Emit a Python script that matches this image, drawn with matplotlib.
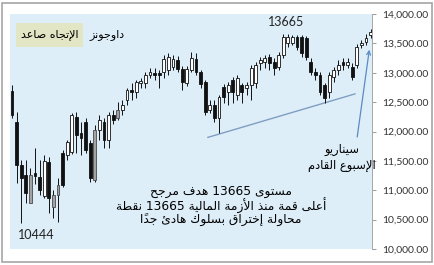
import matplotlib.pyplot as plt
from matplotlib.patches import Rectangle
from matplotlib.ticker import FuncFormatter

# candle data (open, high, low, close)
opens = [12691, 12164, 11433, 11263, 10787, 11297, 11229, 10906, 11484, 10719,
         10923, 11637, 11603, 11654, 12249, 11977, 12164, 11807, 11178, 12028,
         12164, 11858, 12283, 12232, 12368, 12538, 12708, 12674, 12827, 12827,
         12963, 12997, 12997, 13014, 13048, 13099, 13218, 13065, 12827, 13048,
         13235, 13014, 12844, 12368, 12453, 12232, 12759, 12674, 12878, 12623,
         12793, 12742, 12793, 12827, 13167, 13184, 13269, 13184, 13099, 13303,
         13507, 13507, 13609, 13609, 13592, 13184, 13014, 12963, 12793, 12674,
         12929, 13048, 13184, 13133, 13099, 13133, 13473, 13524, 13643]
highs = [12793, 12334, 11518, 11518, 11382, 11722, 11518, 11603, 11569, 11008,
         11212, 11688, 11858, 12317, 12334, 12164, 12232, 11858, 12113, 12283,
         12232, 12334, 12368, 12504, 12538, 12742, 12827, 12878, 12912, 13014,
         13082, 13082, 13048, 13303, 13337, 13303, 13286, 13116, 13116, 13354,
         13337, 13048, 12878, 12538, 12538, 12623, 12810, 12844, 12929, 12963,
         12827, 12844, 13133, 13184, 13269, 13303, 13320, 13252, 13354, 13665,
         13660, 13643, 13643, 13643, 13626, 13252, 13082, 13014, 12827, 13014,
         13099, 13218, 13252, 13252, 13167, 13490, 13558, 13660, 13745]
lows = [12232, 11127, 10444, 10787, 10787, 11110, 10923, 10872, 10617, 10532,
        10460, 11059, 11518, 11620, 11637, 11603, 11637, 11144, 11144, 11858,
        11722, 11722, 12130, 12198, 12283, 12453, 12538, 12572, 12742, 12742,
        12912, 12878, 12742, 12912, 12963, 13048, 13014, 12708, 12776, 13014,
        12963, 12742, 12283, 12317, 12164, 11977, 12487, 12453, 12487, 12538,
        12487, 12623, 12538, 12742, 13048, 13082, 13048, 12963, 13048, 13252,
        13439, 13473, 13390, 13269, 13218, 12963, 12878, 12623, 12487, 12572,
        12844, 12963, 13048, 13082, 12878, 13082, 13422, 13473, 13592]
closes = [12283, 11433, 11212, 10957, 11263, 11246, 11008, 11501, 10872, 10923,
          11093, 11093, 11824, 12283, 11943, 11892, 11688, 11212, 12028, 12198,
          11858, 12283, 12198, 12368, 12453, 12708, 12674, 12844, 12861, 12963,
          13014, 12963, 12963, 13235, 13269, 13235, 13065, 12844, 13065, 13252,
          13014, 12810, 12334, 12453, 12232, 12589, 12589, 12793, 12674, 12912,
          12674, 12793, 13082, 13133, 13218, 13252, 13167, 13082, 13303, 13609,
          13609, 13609, 13439, 13337, 13269, 13014, 12963, 12674, 12572, 12963,
          13048, 13133, 13133, 13184, 12929, 13439, 13507, 13592, 13694]
gray_idx = [4, 9, 10, 18, 23]

trend_idx = [42.6, 74.6]
trend_val = [11900, 12640]

# Arabic labels
title_txt = 'داوجونز'
trend_txt = 'الإتجاه صاعد'
note_lines = ['مستوى 13665 هدف مرجح',
              'أعلى قمة منذ الأزمة المالية 13665 نقطة',
              'محاولة إختراق بسلوك هادئ جداً']
scen_lines = ['سيناريو', 'الإسبوع القادم']

# --- minimal arabic shaping (matplotlib has no shaping / bidi) ---
LETTERS = {0x0621: (0xFE80, 1), 0x0622: (0xFE81, 2), 0x0623: (0xFE83, 2),
           0x0624: (0xFE85, 2), 0x0625: (0xFE87, 2), 0x0626: (0xFE89, 4),
           0x0627: (0xFE8D, 2), 0x0628: (0xFE8F, 4), 0x0629: (0xFE93, 2),
           0x062A: (0xFE95, 4), 0x062B: (0xFE99, 4), 0x062C: (0xFE9D, 4),
           0x062D: (0xFEA1, 4), 0x062E: (0xFEA5, 4), 0x062F: (0xFEA9, 2),
           0x0630: (0xFEAB, 2), 0x0631: (0xFEAD, 2), 0x0632: (0xFEAF, 2),
           0x0633: (0xFEB1, 4), 0x0634: (0xFEB5, 4), 0x0635: (0xFEB9, 4),
           0x0636: (0xFEBD, 4), 0x0637: (0xFEC1, 4), 0x0638: (0xFEC5, 4),
           0x0639: (0xFEC9, 4), 0x063A: (0xFECD, 4), 0x0641: (0xFED1, 4),
           0x0642: (0xFED5, 4), 0x0643: (0xFED9, 4), 0x0644: (0xFEDD, 4),
           0x0645: (0xFEE1, 4), 0x0646: (0xFEE5, 4), 0x0647: (0xFEE9, 4),
           0x0648: (0xFEED, 2), 0x0649: (0xFEEF, 2), 0x064A: (0xFEF1, 4)}
LAMALEF = {0x0622: 0xFEF5, 0x0623: 0xFEF7, 0x0625: 0xFEF9, 0x0627: 0xFEFB}


def ar(text):
    cl = []
    for ch in text:
        if 0x064B <= ord(ch) <= 0x0652 and cl:
            cl[-1][1] += ch
        else:
            cl.append([ch, ''])
    out = []
    i = 0
    while i < len(cl):
        c, marks = cl[i]
        code = ord(c)
        if code not in LETTERS:
            out.append(c + marks)
            i += 1
            continue
        prev = ord(cl[i - 1][0]) if i > 0 else None
        jp = prev in LETTERS and LETTERS[prev][1] == 4 and LETTERS[code][1] > 1
        nxt = ord(cl[i + 1][0]) if i + 1 < len(cl) else None
        if code == 0x0644 and nxt in LAMALEF:
            out.append(chr(LAMALEF[nxt] + (1 if jp else 0)) + marks + cl[i + 1][1])
            i += 2
            continue
        jn = LETTERS[code][1] == 4 and nxt in LETTERS and LETTERS[nxt][1] > 1
        base, n = LETTERS[code]
        form = 3 if (jp and jn) else 1 if jp else 2 if jn else 0
        if form >= n:
            form = 0
        out.append(chr(base + form) + marks)
        i += 1
    out = out[::-1]
    # keep digit runs left-to-right
    res, run = [], []
    for s in out:
        if s[0].isdigit():
            run.append(s)
        else:
            res += run[::-1]
            run = []
            res.append(s)
    res += run[::-1]
    return ''.join(res)


plt.rcParams['font.family'] = ['Lato', 'DejaVu Sans']
AR = ['DejaVu Sans']

W, H = 435, 265
fig = plt.figure(figsize=(W / 100, H / 100), dpi=100)
fig.patch.set_facecolor('white')


def fx(px):
    return px / W


def fy(py):
    return 1 - py / H


ax = fig.add_axes([fx(10), fy(249), fx(362), 235 / H])
ax.set_facecolor('#DDEEF9')

idx = list(range(len(opens)))
ax.vlines(idx, lows, highs, color='#111111', lw=0.7, zorder=2)
for i in idx:
    o, c = opens[i], closes[i]
    if i in gray_idx:
        fc, ec = '#A3A3A3', '#4a4a4a'
    elif c >= o:
        fc, ec = 'white', '#111111'
    else:
        fc, ec = '#111111', '#111111'
    ax.bar(i, abs(c - o), bottom=min(o, c), width=0.62, facecolor=fc,
           edgecolor=ec, lw=0.6, zorder=3)

ax.plot(trend_idx, trend_val, color='#7F9EC0', lw=1.0, zorder=1)

ax.set_xlim(-0.45, 78.3)
ax.set_ylim(10000, 14000)
ax.set_yticks(range(10000, 14001, 500))
ax.yaxis.set_major_formatter(FuncFormatter(lambda v, p: f'{v:,.2f}'))
ax.yaxis.tick_right()
ax.tick_params(axis='y', length=3, width=0.7, color='#999999',
               labelsize=7.5, labelcolor='#333333', pad=4)
ax.set_xticks([])
for s in ['left', 'top', 'bottom']:
    ax.spines[s].set_visible(False)
ax.spines['right'].set_color('#A6A6A6')
ax.spines['right'].set_linewidth(0.7)

# arrow toward the latest candle
ax.annotate('', xy=(77.8, 13440), xytext=(75.0, 11860),
            arrowprops=dict(arrowstyle='->', color='#5B8BC4', lw=0.9,
                            mutation_scale=7))

# labels
fig.patches.append(Rectangle((fx(16), fy(47)), 67 / W, 24 / H,
                             transform=fig.transFigure, facecolor='#E3E6C4',
                             edgecolor='none', zorder=5))
fig.text(fx(49.5), fy(35), ar(trend_txt), family=AR, fontsize=8,
         ha='center', va='center', zorder=6)
fig.text(fx(107), fy(35), ar(title_txt), family=AR, fontsize=8,
         ha='center', va='center')
fig.text(fx(286), fy(22), '13665', fontsize=9, ha='center', va='center',
         color='#222222')
fig.text(fx(36), fy(235), '10444', fontsize=9, ha='center', va='center',
         color='#222222')
for k, line in enumerate(note_lines):
    fig.text(fx(221), fy(191 + 14.5 * k), ar(line), family=AR, fontsize=8.8,
             ha='center', va='center')
for k, line in enumerate(scen_lines):
    fig.text(fx(342), fy(149 + 16 * k), ar(line), family=AR, fontsize=8.3,
             ha='center', va='center')

# outer frame
fig.patches.append(Rectangle((fx(2), fy(262)), 430 / W, 259 / H,
                             transform=fig.transFigure, fill=False,
                             edgecolor='#A6A6A6', lw=1.2))

fig.savefig('out.png', dpi=100)
